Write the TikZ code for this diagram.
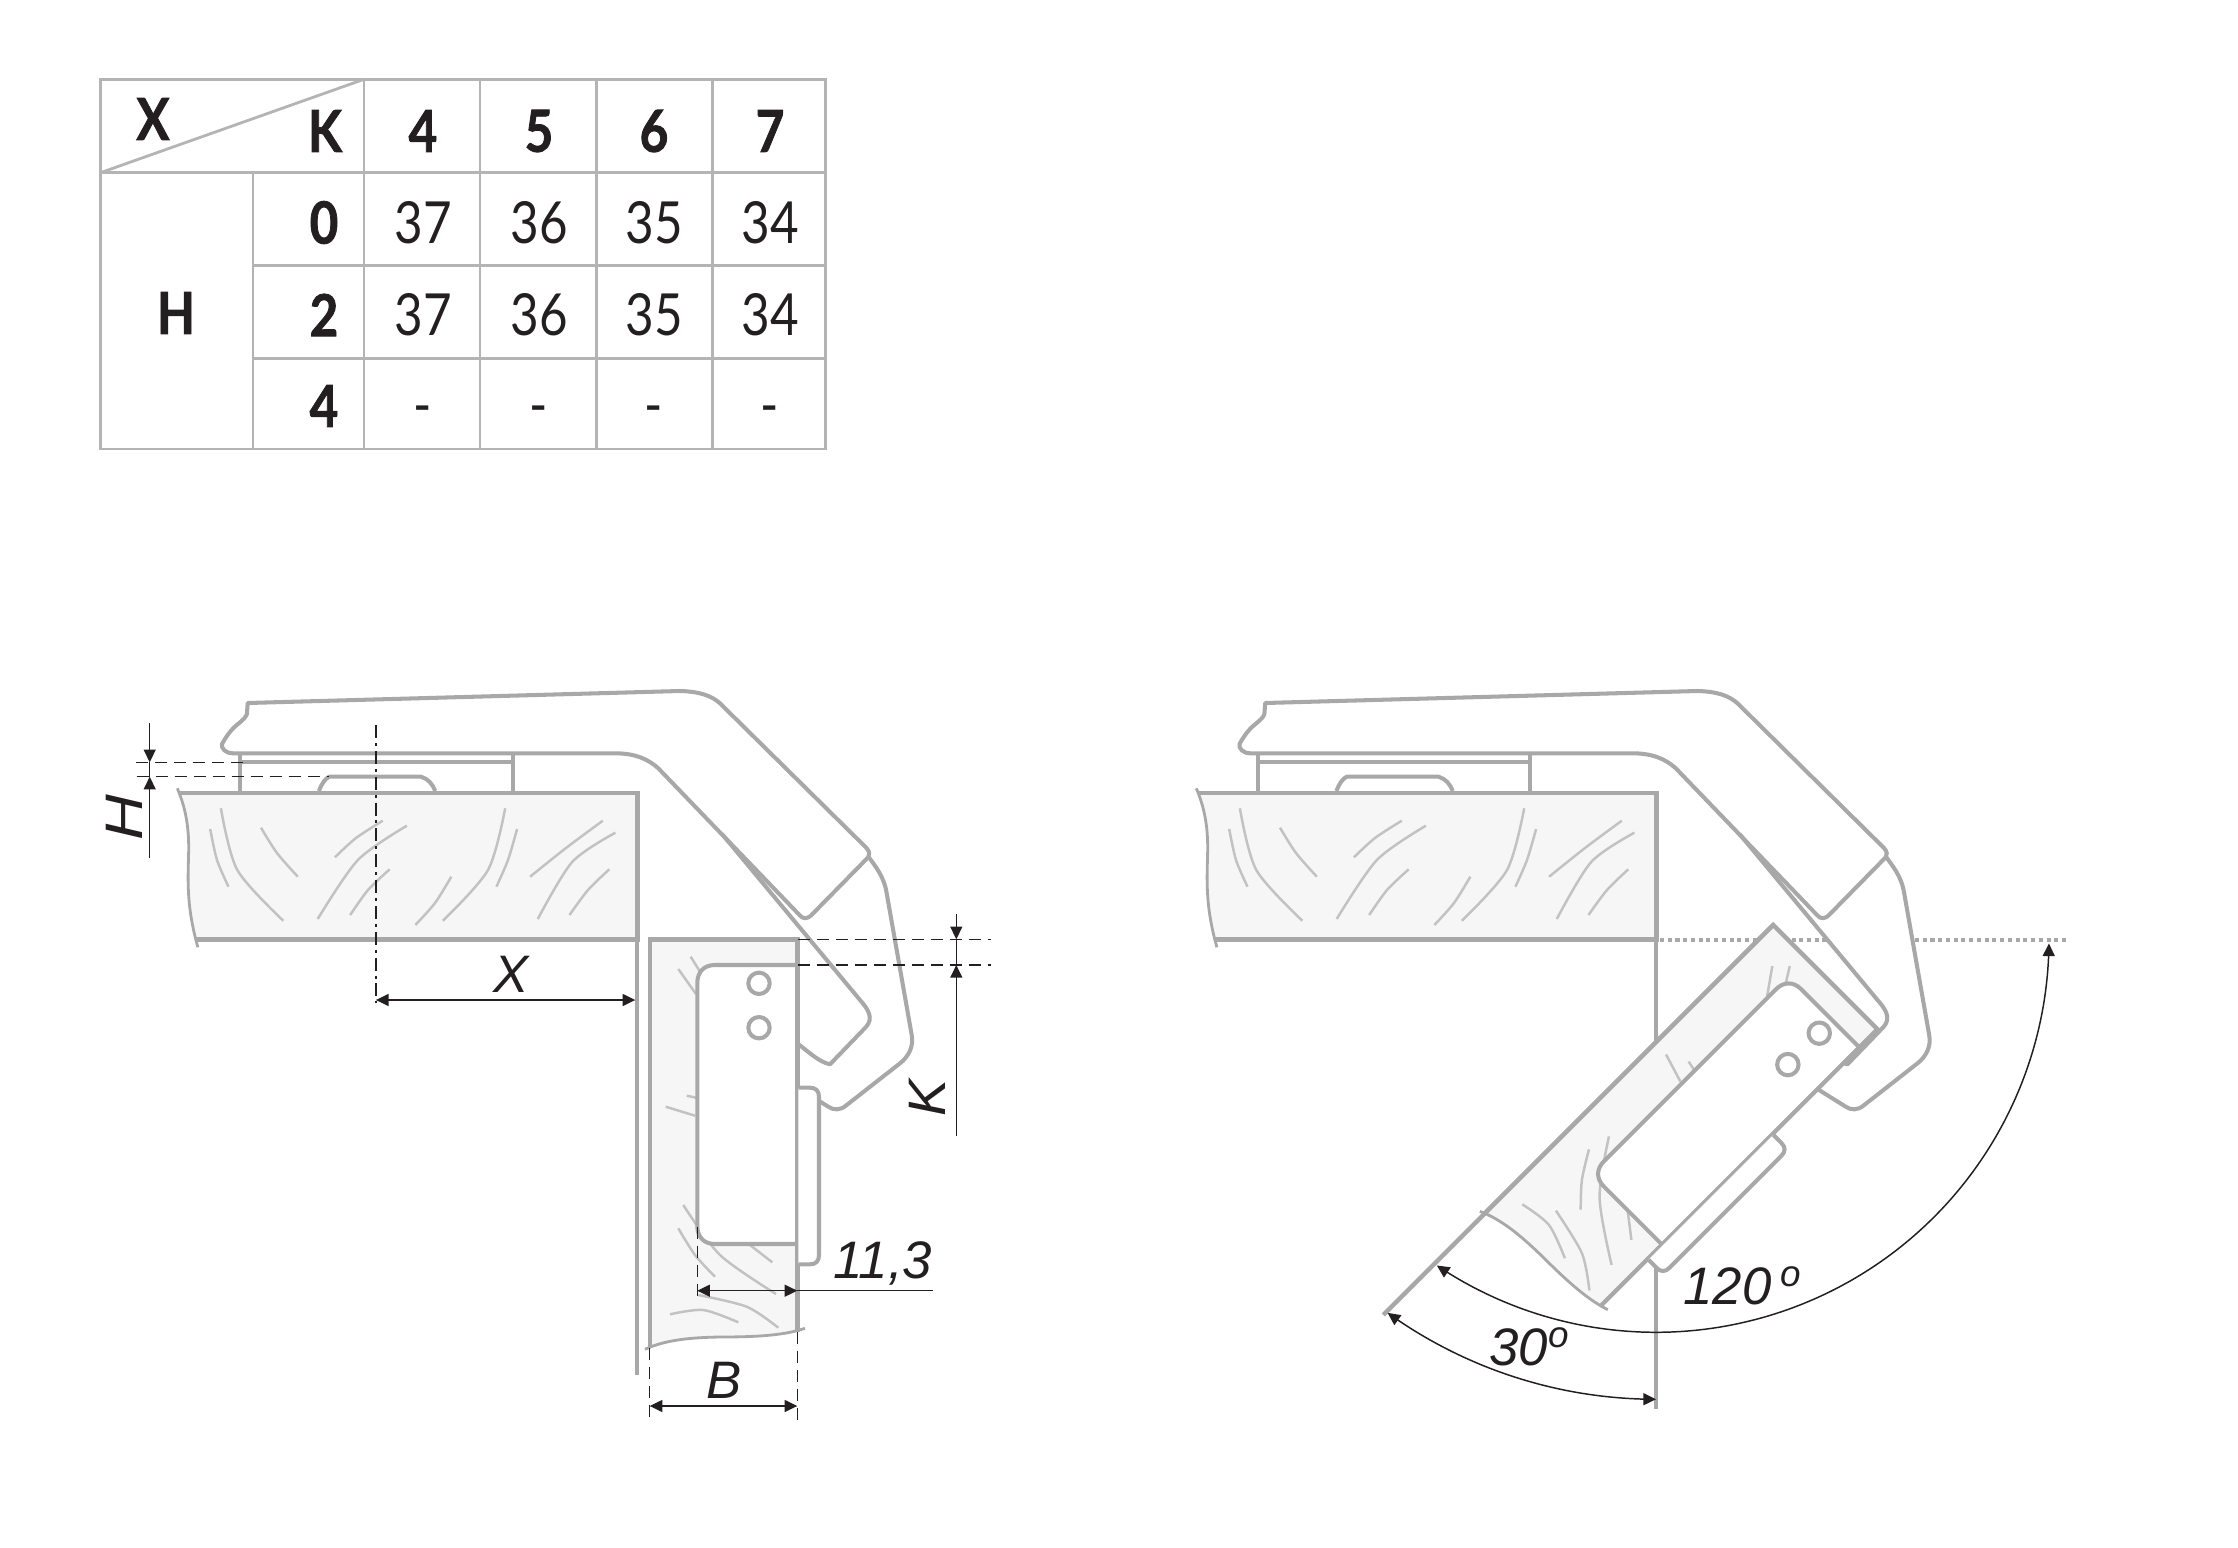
\documentclass[tikz,border=0pt]{standalone}
\usepackage{fontspec}
\setmainfont{Liberation Sans}
\newfontfamily\tabfont[FakeStretch=0.85,BoldFeatures={FakeStretch=0.85,FakeBold=1.4}]{Lato}
\usetikzlibrary{arrows.meta}

\definecolor{inkcol}{HTML}{231F20}
\definecolor{linecol}{HTML}{A8A8A8}
\definecolor{tabcol}{HTML}{B4B4B4}
\definecolor{hatchcol}{HTML}{C2C2C2}
\definecolor{woodcol}{HTML}{F6F6F6}

\tikzset{
    tabline/.style={draw=tabcol,line width=0.8pt},
    tabhead/.style={font=\tabfont\fontsize{16.5}{18}\selectfont\bfseries,text=inkcol,inner sep=0pt},
    tabnum/.style={font=\tabfont\fontsize{16.5}{18}\selectfont,text=inkcol,inner sep=0pt},
    hingeline/.style={draw=linecol,line width=1.15pt,line join=round},
    woodline/.style={draw=linecol,line width=1.25pt},
    waveline/.style={draw=linecol,line width=0.8pt},
    hatchline/.style={draw=hatchcol,line width=0.7pt},
    dimline/.style={draw=inkcol,line width=0.42pt},
    dimtips/.style={>={Triangle[length=3.6pt,width=3.4pt]}},
    dashline/.style={draw=inkcol,line width=0.42pt,dash pattern=on 3.4pt off 2pt},
    axisline/.style={draw=inkcol,line width=0.42pt,dash pattern=on 3.7pt off 1.4pt on 0.85pt off 1.4pt},
    dotline/.style={draw=linecol,line width=1.1pt,dash pattern=on 1.15pt off 1.05pt},
    dimlabel/.style={font=\fontsize{15}{18}\selectfont\itshape,text=inkcol,inner sep=0pt}
}

\begin{document}
\begin{tikzpicture}[x=0.01cm,y=-0.01cm]
\useasboundingbox (0,0) rectangle (2238,1548);

% === TABLE ===
\draw[tabline] (100.5,79.3) rectangle (825.3,449);
\foreach \px in {364,480,596.4,712.4} {
    \draw[tabline] (\px,79.3) -- (\px,449);
}
\draw[tabline] (253,172.7) -- (253,449);
\draw[tabline] (100.5,172.7) -- (825.3,172.7);
\draw[tabline] (253,265.7) -- (825.3,265.7);
\draw[tabline] (253,358.3) -- (825.3,358.3);
\draw[tabline] (100.5,172.7) -- (364,79.3);

\node[tabhead] (headX) at (153,119) {X};
\node[tabhead] (headK) at (325,131) {K};
\node[tabhead] (headH) at (176,313) {H};
\foreach \lab/\py in {0/222.5,2/315,4/406} {
    \node[tabhead] (row\lab) at (324,\py) {\lab};
}
\foreach \lab/\px in {4/423,5/539,6/654,7/770} {
    \node[tabhead] (col\lab) at (\px,131) {\lab};
}
\foreach \val/\px in {37/423,36/539,35/654,34/770} {
    \node[tabnum] (first\val) at (\px,222.5) {\val};
    \node[tabnum] (second\val) at (\px,315) {\val};
    \node[tabnum] (third\val) at (\px,416) {-};
}

% === TOP PANELS, WOOD AND HINGE ARM ===
\foreach \dw/\dh in {0/0,1019/1017.5} {
    % Wood
    \begin{scope}[shift={(\dw,0)}]
        \fill[woodcol] (178.8,792.7) -- (637.3,792.7) -- (637.3,939.3) -- (196.4,939.3)
            .. controls (186,905) and (188,880) .. (188.7,850)
            .. controls (189,820) and (183,802) .. cycle;
        \draw[waveline] (177.3,788.3) .. controls (183,802) and (189,820) .. (188.7,850)
            .. controls (188,880) and (186,905) .. (197.9,947.3);
        \draw[woodline] (178.8,792.7) -- (637.3,792.7) -- (637.3,939.3) -- (196.4,939.3);
        % Grain
        \draw[hatchline] plot[smooth] coordinates {(220.9,808.3) (237.3,870) (283.3,920.7)};
        \draw[hatchline] plot[smooth] coordinates {(210.2,829) (217,860) (228.5,886.7)};
        \draw[hatchline] plot[smooth] coordinates {(261,827.7) (277,853) (297.8,876.7)};
        \draw[hatchline] plot[smooth] coordinates {(382.8,820.7) (356,838) (334.9,857.3)};
        \draw[hatchline] plot[smooth] coordinates {(406.9,825.7) (357.9,860) (317.7,919)};
        \draw[hatchline] plot[smooth] coordinates {(389.7,869.3) (368,890) (350.2,915)};
        \draw[hatchline] plot[smooth] coordinates {(451.3,876.7) (435,903) (415.3,925)};
        \draw[hatchline] plot[smooth] coordinates {(505.2,808.3) (488,870) (442.9,920.7)};
        \draw[hatchline] plot[smooth] coordinates {(517.1,829) (508,860) (496.4,886.7)};
        \draw[hatchline] plot[smooth] coordinates {(602.8,820.7) (566,848) (530.1,876.7)};
        \draw[hatchline] plot[smooth] coordinates {(615.4,832.7) (572.2,862) (537.8,919)};
        \draw[hatchline] plot[smooth] coordinates {(609.3,869.3) (588,890) (569.5,915)};
    \end{scope}
    % Cabinet-side mounting plate
    \begin{scope}[shift={(\dh,0)}]
        \draw[hingeline] (240.4,753.3) -- (240.4,792.7);
        \draw[hingeline] (512.9,753.3) -- (512.9,792.7);
        \draw[hingeline] (240.4,762.3) -- (512.9,762.3);
        \draw[hingeline] (318.9,791) .. controls (322,783) and (325,779) .. (329.2,776.7)
            -- (421,776.7) .. controls (428,779) and (432,783) .. (435.2,791);
        % Upper arm
        \draw[hingeline] (247.7,703) -- (680,691)
            .. controls (700,691.5) and (712,696) .. (720,703.3)
            -- (866.5,848) .. controls (870,852) and (870,855) .. (868,857.5)
            -- (812,914.5) .. controls (807,919.5) and (803,919.5) .. (799,914.5)
            -- (658.3,768.3) .. controls (648,759) and (635,753.3) .. (615,753.3)
            -- (233,753.3) .. controls (225,753.3) and (221,748) .. (222,744)
            .. controls (228,733) and (234,727) .. (238,724)
            .. controls (243,720) and (246,717) .. (246.9,714) -- cycle;
        % Lower arm
        \draw[hingeline] (722,834) -- (860,1000)
            .. controls (868,1009) and (874,1018) .. (866,1027)
            -- (830,1064.3) .. controls (820,1062) and (812,1055) .. (798.3,1044);
        % Cover
        \draw[hingeline] (868,856) .. controls (875,866) and (884,876) .. (886.7,893.3)
            -- (911.7,1035) .. controls (914,1047) and (908,1057) .. (900,1063.3)
            -- (846.7,1105) .. controls (840,1111) and (833,1110) .. (828.3,1106.7)
            -- (801.5,1090);
    \end{scope}
}

% Cabinet sides and door reference line
\draw[woodline] (636.7,939.3) -- (636.7,1375);
\draw[woodline] (1655.7,939.3) -- (1655.7,1409);
\draw[dotline] (1660,939.6) -- (1828,939.6);
\draw[dotline] (1915,939.6) -- (2067,939.6);
\draw[woodline] (1773.3,925) -- (1383.3,1315);

% === DOOR, CLOSED AND OPEN ===
\foreach \dx/\dy/\ang in {0/0/0,1123.3/-14.3/-45} {
    \begin{scope}[shift={(\dx,\dy)},rotate around={\ang:(650,939.3)}]
        \fill[woodcol] (650,939.3) -- (797.3,939.3) -- (797.3,1331.7)
            .. controls (785,1335) and (760,1337) .. (720,1337)
            .. controls (690,1337.5) and (665,1340) .. (650,1346.7) -- cycle;
        % Grain
        \draw[hatchline] (678.3,969) -- (696,994);
        \draw[hatchline] (690.7,956.7) -- (700,971.7);
        \draw[hatchline] (686.7,1095.7) -- (696,1097.7);
        \draw[hatchline] (665.7,1106.7) -- (695,1115.7);
        \draw[hatchline] plot[smooth] coordinates {(683.3,1205) (720,1255) (776,1294)};
        \draw[hatchline] plot[smooth] coordinates {(678.3,1228.3) (695,1255) (715,1276.7)};
        \draw[hatchline] (750,1245) -- (772.3,1262.3);
        \draw[hatchline] plot[smooth] coordinates {(698.3,1295) (746.7,1306.7) (778.3,1327.7)};
        \draw[hatchline] plot[smooth] coordinates {(670,1314.3) (703.3,1310) (738.3,1322.3)};
        % Cup pocket
        \filldraw[fill=white,hingeline] (797.3,965) -- (715,965)
            .. controls (704,965) and (697.3,972) .. (697.3,983)
            -- (697.3,1226) .. controls (697.3,1237) and (704,1244) .. (715,1244)
            -- (797.3,1244);
        \draw[hingeline,fill=white] (759,983.3) circle (10.7);
        \draw[hingeline,fill=white] (759,1027.7) circle (10.7);
        % Outline
        \draw[waveline] (645,1349.3) .. controls (665,1340) and (690,1337.5) .. (720,1337)
            .. controls (760,1337) and (785,1335) .. (805,1328.3);
        \draw[woodline] (650,1346.7) -- (650,939.3) -- (797.3,939.3) -- (797.3,1331.7);
        % Door-side plate
        \filldraw[fill=white,hingeline] (798.3,1087.7) -- (810,1087.7)
            .. controls (816,1087.7) and (819,1091) .. (819,1097)
            -- (819,1255) .. controls (819,1261) and (816,1264.3) .. (810,1264.3)
            -- (798.3,1264.3);
    \end{scope}
}

% === DIMENSIONS, LEFT ===
\draw[dashline] (136,762.3) -- (243,762.3);
\draw[dashline] (136.7,776.7) -- (329,776.7);
\draw[dimline,dimtips,->] (149.7,723.3) -- (149.7,762.3);
\draw[dimline,dimtips,->] (149.7,858.3) -- (149.7,776.7);
\draw[dimline] (149.7,762.3) -- (149.7,776.7);
\node[dimlabel,rotate=90,xscale=1.2] (dimH) at (124,818) {H};

\draw[axisline] (375.9,725) -- (375.9,1003.3);
\draw[dimline,dimtips,<->] (375.9,1000) -- (635.3,1000);
\node[dimlabel] (dimX) at (511,974) {X};

\draw[dashline] (797.7,939.3) -- (991,939.3);
\draw[dashline] (797.7,965) -- (991,965);
\draw[dimline,dimtips,->] (956.3,914.3) -- (956.3,939.3);
\draw[dimline,dimtips,->] (956.3,1136) -- (956.3,965);
\draw[dimline] (956.3,939.3) -- (956.3,965);
\node[dimlabel,rotate=90,xscale=1.05] (dimK) at (927,1098) {K};

\draw[dashline] (697.3,1226.7) -- (697.3,1301.7);
\draw[dimline,dimtips,<->] (697.3,1290.7) -- (797.3,1290.7);
\draw[dimline] (797.3,1290.7) -- (932.7,1290.7);
\node[dimlabel] (dimDepth) at (882.7,1263.5) {11,3};

\draw[dashline] (649.7,1348) -- (649.7,1421.7);
\draw[dashline] (797.3,1331.7) -- (797.3,1421.7);
\draw[dimline,dimtips,<->] (649.7,1406) -- (797.3,1406);
\node[dimlabel] (dimB) at (724,1380) {B};

% === ANGLES, RIGHT ===
\draw[dimline,dimtips,<->,domain=0.6:123.9,samples=90,smooth]
    plot ({1656+393*cos(\x)},{939.3+393*sin(\x)});
\draw[dimline,dimtips,<->,domain=90:125.7,samples=40,smooth]
    plot ({1656+460*cos(\x)},{939.3+460*sin(\x)});
\node[dimlabel] (angOpen) at (1743,1286) {120\,\textsuperscript{o}};
\node[dimlabel] (angTilt) at (1530,1347) {30\textsuperscript{o}};

\end{tikzpicture}
\end{document}
